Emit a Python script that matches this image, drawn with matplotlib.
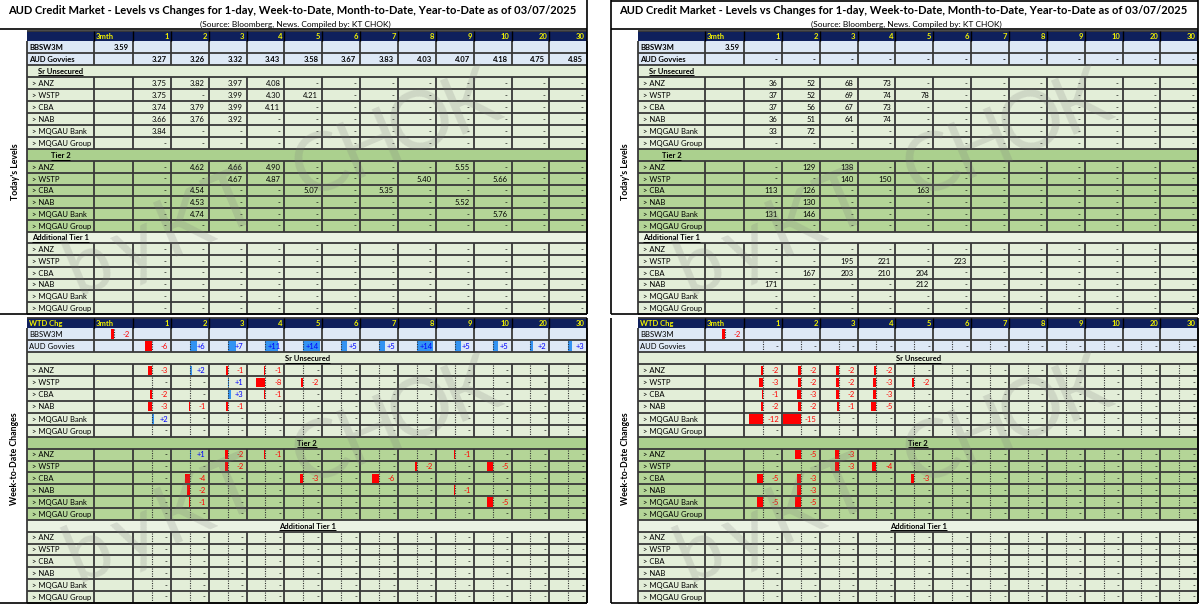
import matplotlib
matplotlib.use('Agg')
import matplotlib.pyplot as plt
from matplotlib.patches import Rectangle
from matplotlib.collections import LineCollection
import numpy as np

_ = None  # shown as '-'

TENORS = ['1', '2', '3', '4', '5', '6', '7', '8', '9', '10', '20', '30']
BANKS = ['> ANZ', '> WSTP', '> CBA', '> NAB', '> MQGAU Bank', '> MQGAU Group']
SECTIONS = ['Sr Unsecured', 'Tier 2', 'Additional Tier 1']
TITLE = ('AUD Credit Market - Levels vs Changes for 1-day, Week-to-Date, '
         'Month-to-Date, Year-to-Date as of 03/07/2025')
SUBTITLE = '(Source: Bloomberg, News. Compiled by: KT CHOK)'
LABEL_LEVELS = "Today's Levels"
LABEL_CHANGES = 'Week-to-Date Changes'
WATERMARK = 'by KT CHOK'

# ---------------- Left panel: yields (%) ----------------
Y_BBSW3M = 3.59
Y_GOVVIES = [3.27, 3.26, 3.32, 3.43, 3.58, 3.67, 3.83, 4.03, 4.07, 4.18, 4.75, 4.85]
Y_SR = [
    [3.75, 3.82, 3.97, 4.08, _, _, _, _, _, _, _, _],
    [3.75, _, 3.99, 4.30, 4.21, _, _, _, _, _, _, _],
    [3.74, 3.79, 3.99, 4.11, _, _, _, _, _, _, _, _],
    [3.66, 3.76, 3.92, _, _, _, _, _, _, _, _, _],
    [3.84, _, _, _, _, _, _, _, _, _, _, _],
    [_, _, _, _, _, _, _, _, _, _, _, _],
]
Y_T2 = [
    [_, 4.62, 4.66, 4.90, _, _, _, _, 5.55, _, _, _],
    [_, _, 4.67, 4.87, _, _, _, 5.40, _, 5.66, _, _],
    [_, 4.54, _, _, 5.07, _, 5.35, _, _, _, _, _],
    [_, 4.53, _, _, _, _, _, _, 5.52, _, _, _],
    [_, 4.74, _, _, _, _, _, _, _, 5.76, _, _],
    [_, _, _, _, _, _, _, _, _, _, _, _],
]
Y_AT1 = [
    [_, _, _, _, _, _, _, _, _, _, _, _],
    [_, _, _, _, _, _, _, _, _, _, _, _],
    [_, _, _, _, _, _, _, _, _, _, _, _],
    [_, _, _, _, _, _, _, _, _, _, _, _],
    [_, _, _, _, _, _, _, _, _, _, _, _],
    [_, _, _, _, _, _, _, _, _, _, _, _],
]
Y_WTD_BBSW3M = -2
Y_WTD_GOVVIES = [-6, 6, 7, 11, 14, 5, 5, 14, 5, 5, 2, 3]
Y_WTD_SR = [
    [-3, 2, -1, -1, 0, 0, 0, 0, 0, 0, 0, 0],
    [0, 0, 1, -8, -2, 0, 0, 0, 0, 0, 0, 0],
    [-2, 0, 3, -1, 0, 0, 0, 0, 0, 0, 0, 0],
    [-3, -1, -1, 0, 0, 0, 0, 0, 0, 0, 0, 0],
    [2, 0, 0, 0, 0, 0, 0, 0, 0, 0, 0, 0],
    [0, 0, 0, 0, 0, 0, 0, 0, 0, 0, 0, 0],
]
Y_WTD_T2 = [
    [0, 1, -2, -1, 0, 0, 0, 0, -1, 0, 0, 0],
    [0, 0, -2, 0, 0, 0, 0, -2, 0, -5, 0, 0],
    [0, -4, 0, 0, -3, 0, -6, 0, 0, 0, 0, 0],
    [0, -2, 0, 0, 0, 0, 0, 0, -1, 0, 0, 0],
    [0, -1, 0, 0, 0, 0, 0, 0, 0, -5, 0, 0],
    [0, 0, 0, 0, 0, 0, 0, 0, 0, 0, 0, 0],
]
Y_WTD_AT1 = [
    [0, 0, 0, 0, 0, 0, 0, 0, 0, 0, 0, 0],
    [0, 0, 0, 0, 0, 0, 0, 0, 0, 0, 0, 0],
    [0, 0, 0, 0, 0, 0, 0, 0, 0, 0, 0, 0],
    [0, 0, 0, 0, 0, 0, 0, 0, 0, 0, 0, 0],
    [0, 0, 0, 0, 0, 0, 0, 0, 0, 0, 0, 0],
    [0, 0, 0, 0, 0, 0, 0, 0, 0, 0, 0, 0],
]

# ---------------- Right panel: spreads (bp) ----------------
S_BBSW3M = 3.59
S_GOVVIES = [_, _, _, _, _, _, _, _, _, _, _, _]
S_SR = [
    [36, 52, 68, 73, _, _, _, _, _, _, _, _],
    [37, 52, 69, 74, 78, _, _, _, _, _, _, _],
    [37, 56, 67, 73, _, _, _, _, _, _, _, _],
    [36, 51, 64, 74, _, _, _, _, _, _, _, _],
    [33, 72, _, _, _, _, _, _, _, _, _, _],
    [_, _, _, _, _, _, _, _, _, _, _, _],
]
S_T2 = [
    [_, 129, 138, _, _, _, _, _, _, _, _, _],
    [_, _, 140, 150, _, _, _, _, _, _, _, _],
    [113, 126, _, _, 163, _, _, _, _, _, _, _],
    [_, 130, _, _, _, _, _, _, _, _, _, _],
    [131, 146, _, _, _, _, _, _, _, _, _, _],
    [_, _, _, _, _, _, _, _, _, _, _, _],
]
S_AT1 = [
    [_, _, _, _, _, _, _, _, _, _, _, _],
    [_, _, 195, 221, _, 223, _, _, _, _, _, _],
    [_, 167, 203, 210, 204, _, _, _, _, _, _, _],
    [171, _, _, _, 212, _, _, _, _, _, _, _],
    [_, _, _, _, _, _, _, _, _, _, _, _],
    [_, _, _, _, _, _, _, _, _, _, _, _],
]
S_WTD_BBSW3M = -2
S_WTD_GOVVIES = [0, 0, 0, 0, 0, 0, 0, 0, 0, 0, 0, 0]
S_WTD_SR = [
    [-2, -2, -2, -2, 0, 0, 0, 0, 0, 0, 0, 0],
    [-3, -2, -2, -3, -2, 0, 0, 0, 0, 0, 0, 0],
    [-1, -3, -2, -3, 0, 0, 0, 0, 0, 0, 0, 0],
    [-2, -2, -1, -5, 0, 0, 0, 0, 0, 0, 0, 0],
    [-12, -15, 0, 0, 0, 0, 0, 0, 0, 0, 0, 0],
    [0, 0, 0, 0, 0, 0, 0, 0, 0, 0, 0, 0],
]
S_WTD_T2 = [
    [0, -5, -3, 0, 0, 0, 0, 0, 0, 0, 0, 0],
    [0, 0, -3, -4, 0, 0, 0, 0, 0, 0, 0, 0],
    [-5, -3, 0, 0, -3, 0, 0, 0, 0, 0, 0, 0],
    [0, -3, 0, 0, 0, 0, 0, 0, 0, 0, 0, 0],
    [-5, -5, 0, 0, 0, 0, 0, 0, 0, 0, 0, 0],
    [0, 0, 0, 0, 0, 0, 0, 0, 0, 0, 0, 0],
]
S_WTD_AT1 = [
    [0, 0, 0, 0, 0, 0, 0, 0, 0, 0, 0, 0],
    [0, 0, 0, 0, 0, 0, 0, 0, 0, 0, 0, 0],
    [0, 0, 0, 0, 0, 0, 0, 0, 0, 0, 0, 0],
    [0, 0, 0, 0, 0, 0, 0, 0, 0, 0, 0, 0],
    [0, 0, 0, 0, 0, 0, 0, 0, 0, 0, 0, 0],
    [0, 0, 0, 0, 0, 0, 0, 0, 0, 0, 0, 0],
]

# ---------------- style / geometry ----------------
FONT = 'Lato'
NAVY = '#0f205c'
YELLOW = '#f2f200'
BLUE_BG = '#dde8f5'
SEC_BG = ['#e3eed8', '#abd08e', '#ebf3e3']
ROW_BG = ['#e3eed8', '#b4d597', '#e3eed8']
GRID = '#383838'
NEG = '#ff0000'
POS = '#0000ff'
POS_BAR = '#3393f2'
BAR_MAX = 16.0
TXT = '#000000'

W, H = 1200, 608
PX = 100 / 72
COL_W = 37.85
HDR_H = 10
TOP_Y, BOT_Y = 31, 318
TOP_HS = [12.05] * 9 + [11.75] * 14
BOT_HS = [12.1] * 9 + [11.85] * 14
PANELS = [0, 611]
WM_FS = 58

fig = plt.figure(figsize=(W / 100, H / 100), dpi=100)
ax = fig.add_axes([0, 0, 1, 1])
ax.set_xlim(0, W)
ax.set_ylim(H, 0)
ax.axis('off')
R = fig.canvas.get_renderer()


def width_px(s, fs, weight='normal'):
    t = ax.text(0, 0, s, fontsize=fs, family=FONT, weight=weight)
    w = t.get_window_extent(R).width
    t.remove()
    return w


CELL_FS = 10 * 55.0 / width_px('> MQGAU Bank', 10)
TITLE_FS = 10 * 569.0 / width_px(TITLE, 10, 'bold')
SUB_FS = 10 * 190.0 / width_px(SUBTITLE, 10)
SIDE_FS = 10 * 93.0 / width_px(LABEL_CHANGES, 10, 'bold')

grid_segs, hdr_segs, dot_segs, frame_segs, ul_segs = [], [], [], [], []


def put(x, yc, s, fs=None, ha='left', color=TXT, weight='normal', z=5):
    fs = fs or CELL_FS
    ax.text(x, yc + 0.358 * fs * PX, s, fontsize=fs, family=FONT, weight=weight,
            color=color, ha=ha, va='baseline', zorder=z)


def col_edges(x0):
    xs = [x0 + 27, x0 + 94, x0 + 133]
    for k in range(12):
        xs.append(x0 + 133 + COL_W * (k + 1))
    return xs


def wtd_cell(xl, xr, y, h, v):
    mid = (xl + xr) / 2
    half = (xr - xl) / 2
    dot_segs.append([(mid, y + 1), (mid, y + h - 1)])
    if v:
        L = abs(v) / BAR_MAX * half
        x = mid - L if v < 0 else mid
        ax.add_patch(Rectangle((x, y + h * 0.1), L, h * 0.8,
                               fc=NEG if v < 0 else POS_BAR, ec='none', zorder=2))
        put(xr - 3, y + h / 2, f'{v:+d}', ha='right', color=NEG if v < 0 else POS)
    else:
        put(xr - 3, y + h / 2, '-', ha='right')


def draw_table(x0, ytop, row_hs, mode, bbsw, gov, blocks, fmt):
    xs = col_edges(x0)
    left, right = xs[0], xs[-1]
    ax.add_patch(Rectangle((left, ytop), right - left, HDR_H, fc=NAVY, ec='none', zorder=1))
    yc = ytop + HDR_H / 2
    if mode == 'wtd':
        put(left + 2, yc, 'WTD Chg', color=YELLOW, weight='bold')
    put(xs[1] + 2, yc, '3mth', color=YELLOW, weight='bold')
    for k, t in enumerate(TENORS):
        put(xs[k + 3] - 2, yc, t, ha='right', color=YELLOW, weight='bold')
    for x in xs[1:-1]:
        hdr_segs.append([(x, ytop), (x, ytop + HDR_H)])

    rows = [('blue', 'BBSW3M', bbsw, None), ('blue', 'AUD Govvies', None, gov)]
    for si in range(3):
        rows.append(('sec', SECTIONS[si], si, None))
        for bi in range(6):
            rows.append(('bank', BANKS[bi], si, blocks[si][bi]))

    y = ytop + HDR_H
    grid_segs.append([(left, ytop), (right, ytop)])
    for (kind, label, a, vals), h in zip(rows, row_hs):
        yc = y + h / 2
        if kind == 'sec':
            ax.add_patch(Rectangle((left, y), right - left, h, fc=SEC_BG[a], ec='none', zorder=1))
            xt = (xs[0] + xs[1]) / 2 if mode == 'levels' else (left + right) / 2
            put(xt, yc, label, ha='center', weight='bold')
            tw = width_px(label, CELL_FS, 'bold')
            yb = yc + 0.358 * CELL_FS * PX + 1.6
            ul_segs.append([(xt - tw / 2, yb), (xt + tw / 2, yb)])
            grid_segs.append([(left, y), (left, y + h)])
            grid_segs.append([(right, y), (right, y + h)])
        else:
            bg = BLUE_BG if kind == 'blue' else ROW_BG[a]
            ax.add_patch(Rectangle((left, y), right - left, h, fc=bg, ec='none', zorder=1))
            bold = (kind == 'blue' and mode == 'levels')
            xl = left + 2 if kind == 'blue' else left + 5
            put(xl, yc, label, weight='bold' if bold else 'normal')
            for x in xs:
                grid_segs.append([(x, y), (x, y + h)])
            if kind == 'blue' and vals is None:
                if mode == 'levels':
                    put(xs[2] - 4, yc, f'{a:.2f}', ha='right', weight='bold')
                else:
                    wtd_cell(xs[1], xs[2], y, h, a)
            else:
                for k, v in enumerate(vals):
                    xl_c, xr_c = xs[k + 2], xs[k + 3]
                    if mode == 'levels':
                        s = '-' if v is None else fmt(v)
                        put(xr_c - 4, yc, s, ha='right', weight='bold' if bold else 'normal')
                    else:
                        wtd_cell(xl_c, xr_c, y, h, v)
        grid_segs.append([(left, y + h), (right, y + h)])
        y += h


def watermark(x0, y0):
    ang = 23.0
    r = np.deg2rad(ang)
    d = np.array([np.cos(r), -np.sin(r)])
    n = np.array([np.sin(r), np.cos(r)])
    base = np.array([x0 + 182.0, y0 + 220.0])
    chars = WATERMARK.replace(' ', '')
    offs = [-104, -54, 0, 54, 148, 203, 258, 312]
    half_cap = 0.358 * WM_FS * PX
    for ch, s in zip(chars, offs):
        p = base + s * d + half_cap * n
        ax.text(p[0], p[1], ch, fontsize=WM_FS, family=FONT, color='#7a7a7a', alpha=0.2,
                rotation=ang, rotation_mode='anchor', ha='center', va='baseline', zorder=10)


fmt_pct = lambda v: f'{v:.2f}'
fmt_bp = lambda v: f'{v:.0f}'

panel_data = [
    (Y_BBSW3M, Y_GOVVIES, [Y_SR, Y_T2, Y_AT1], Y_WTD_BBSW3M, Y_WTD_GOVVIES,
     [Y_WTD_SR, Y_WTD_T2, Y_WTD_AT1], fmt_pct),
    (S_BBSW3M, S_GOVVIES, [S_SR, S_T2, S_AT1], S_WTD_BBSW3M, S_WTD_GOVVIES,
     [S_WTD_SR, S_WTD_T2, S_WTD_AT1], fmt_bp),
]

for x0, (bb, gv, blk, wbb, wgv, wblk, fmt) in zip(PANELS, panel_data):
    ax.text(x0 + 292.5, 10.5 + 0.358 * TITLE_FS * PX, TITLE, fontsize=TITLE_FS, family=FONT,
            weight='bold', ha='center', va='baseline', zorder=5, color=TXT)
    ax.text(x0 + 295, 24 + 0.358 * SUB_FS * PX, SUBTITLE, fontsize=SUB_FS, family=FONT,
            ha='center', va='baseline', zorder=5, color=TXT)
    draw_table(x0, TOP_Y, TOP_HS, 'levels', bb, gv, blk, fmt)
    draw_table(x0, BOT_Y, BOT_HS, 'wtd', wbb, wgv, wblk, fmt)
    ax.text(x0 + 15, 172, LABEL_LEVELS, fontsize=SIDE_FS, family=FONT, weight='bold',
            rotation=90, ha='center', va='center', zorder=5, color=TXT)
    ax.text(x0 + 15, 459, LABEL_CHANGES, fontsize=SIDE_FS, family=FONT, weight='bold',
            rotation=90, ha='center', va='center', zorder=5, color=TXT)
    watermark(x0, 0)
    watermark(x0, 287)
    xr = x0 + 587
    frame_segs += [[(x0, 29), (xr, 29)], [(xr, 0), (xr, 314)], [(x0, 314), (xr, 314)],
                   [(xr, 318), (xr, 602.5)], [(x0, 602.5), (xr, 602.5)]]
    if x0 > 0:
        frame_segs += [[(x0, 0), (x0, 314)], [(x0, 318), (x0, 602.5)], [(x0, 0.8), (xr, 0.8)]]

ax.add_collection(LineCollection(grid_segs, colors=GRID, linewidths=1.3, zorder=3))
ax.add_collection(LineCollection(hdr_segs, colors='black', linewidths=1.0, zorder=3))
ax.add_collection(LineCollection(dot_segs, colors='#333333', linewidths=0.8,
                                 linestyles=[(0, (1.0, 1.2))], zorder=3))
ax.add_collection(LineCollection(ul_segs, colors='black', linewidths=0.7, zorder=5))
ax.add_collection(LineCollection(frame_segs, colors='black', linewidths=1.2, zorder=6))

fig.savefig('out.png', dpi=100)
